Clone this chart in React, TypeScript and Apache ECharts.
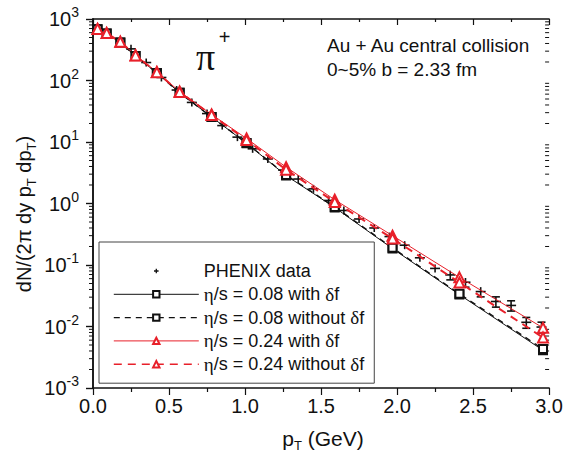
import React, { useEffect, useRef } from "react";
import * as echarts from "echarts";

// ---- data ----
const modelPt = [0.03, 0.09, 0.18, 0.28, 0.42, 0.57, 0.78, 1.01, 1.27, 1.59, 1.97, 2.41, 2.96];
const eta008WithDf = [680, 580, 415, 250, 133, 63, 25.5, 9.5, 2.85, 0.86, 0.185, 0.033, 0.0041];
const eta008WithoutDf = [680, 580, 415, 250, 133, 63, 25.5, 9.6, 2.9, 0.88, 0.19, 0.034, 0.0043];
const eta024WithDf = [690, 590, 425, 258, 138, 66, 28, 11.4, 3.9, 1.15, 0.3, 0.063, 0.0095];
const eta024WithoutDf = [690, 590, 425, 256, 136, 65, 27.5, 10.8, 3.55, 1.06, 0.27, 0.052, 0.0066];

const phenixPt = [0.25, 0.35, 0.45, 0.55, 0.65, 0.75, 0.85, 0.95, 1.05, 1.15, 1.25, 1.35, 1.45, 1.55, 1.65, 1.75, 1.85, 1.95, 2.05, 2.15, 2.25, 2.35, 2.45, 2.55, 2.65, 2.75, 2.85, 2.95];
const phenixVal = [327, 196, 112, 70, 44, 29, 18.5, 12.0, 7.75, 5.3, 3.5, 2.5, 1.73, 1.12, 0.77, 0.56, 0.4, 0.29, 0.21, 0.131, 0.088, 0.069, 0.0525, 0.037, 0.0255, 0.022, 0.0117, 0.0098];
const phenixErr = [0.08, 0.08, 0.08, 0.08, 0.08, 0.08, 0.08, 0.08, 0.08, 0.08, 0.08, 0.08, 0.08, 0.08, 0.08, 0.08, 0.08, 0.08, 0.12, 0.13, 0.14, 0.17, 0.17, 0.18, 0.19, 0.19, 0.2, 0.2];

const seriesNames = [
  "PHENIX data",
  "η/s = 0.08 with δf",
  "η/s = 0.08 without δf",
  "η/s = 0.24 with δf",
  "η/s = 0.24 without δf",
];

const xMin = 0;
const xMax = 3;
const xInterval = 0.5;
const yMin = 0.001;
const yMax = 1000;

const FONT = "'Liberation Sans', Arial, sans-serif";
const SERIF = "'Liberation Serif', 'Times New Roman', serif";
const RED = "#e8202a";
const BLACK = "#111";

function minorLogTicks(): number[] {
  const out: number[] = [];
  for (let e = -3; e < 3; e++) {
    for (let m = 2; m <= 9; m++) out.push(m * Math.pow(10, e));
  }
  return out;
}

export default function App() {
  const ref = useRef<HTMLDivElement>(null);
  useEffect(() => {
    if (!ref.current) return;
    const chart = echarts.init(ref.current, null, { renderer: "svg" });
    const pair = (ys: number[]) => modelPt.map((p, i) => [p, ys[i]]);
    const tickLabelRich = {
      b: { fontSize: 20, fontFamily: FONT, color: BLACK, lineHeight: 28 },
      s: { fontSize: 14, fontFamily: FONT, color: BLACK, lineHeight: 14, verticalAlign: "top" },
    };
    const option: any = {
      animation: false,
      backgroundColor: "#fff",
      grid: { left: 93, right: 13, top: 19, bottom: 72 },
      xAxis: [
        {
          type: "value",
          min: xMin,
          max: xMax,
          interval: xInterval,
          position: "bottom",
          axisLine: { show: true, lineStyle: { color: BLACK, width: 1.5 } },
          axisTick: { show: true, length: 7, lineStyle: { color: BLACK, width: 1.2 } },
          minorTick: { show: true, splitNumber: 2, length: 4, lineStyle: { color: BLACK, width: 1.2 } },
          splitLine: { show: false },
          axisLabel: {
            fontSize: 20,
            fontFamily: FONT,
            color: BLACK,
            margin: 8,
            formatter: (v: number) => v.toFixed(1),
          },
        },
        {
          type: "value",
          min: xMin,
          max: xMax,
          interval: xInterval,
          position: "top",
          axisLine: { show: true, lineStyle: { color: BLACK, width: 1.5 } },
          axisTick: { show: true, inside: true, length: 6, lineStyle: { color: BLACK, width: 1.2 } },
          minorTick: { show: true, splitNumber: 2, length: 3, lineStyle: { color: BLACK, width: 1.2 } },
          splitLine: { show: false },
          axisLabel: { show: false },
        },
      ],
      yAxis: [
        {
          type: "log",
          logBase: 10,
          min: yMin,
          max: yMax,
          splitNumber: 6,
          position: "left",
          axisLine: { show: true, lineStyle: { color: BLACK, width: 1.5 } },
          axisTick: { show: true, length: 7, lineStyle: { color: BLACK, width: 1.2 } },
          splitLine: { show: false },
          axisLabel: {
            margin: 14,
            rich: tickLabelRich,
            formatter: (v: number) => {
              const e = Math.round(Math.log10(v));
              return `{b|10}{s|${e}}`;
            },
          },
        },
        {
          type: "log",
          logBase: 10,
          min: yMin,
          max: yMax,
          splitNumber: 6,
          position: "right",
          axisLine: { show: true, lineStyle: { color: BLACK, width: 1.5 } },
          axisTick: { show: true, inside: true, length: 7, lineStyle: { color: BLACK, width: 1.2 } },
          splitLine: { show: false },
          axisLabel: { show: false },
        },
      ],
      legend: {
        orient: "vertical",
        left: 99,
        top: 242,
        padding: [19, 10, 9, 14],
        itemWidth: 85,
        itemHeight: 8,
        itemGap: 3.3,
        borderColor: "#444",
        borderWidth: 1,
        selectedMode: false,
        textStyle: {
          fontSize: 18,
          fontFamily: FONT,
          color: BLACK,
          lineHeight: 20,
          rich: { g: { fontSize: 19, fontFamily: SERIF, color: BLACK, lineHeight: 20 } },
        },
        formatter: (name: string) => name.replace("η", "{g|η}").replace("δ", "{g|δ}"),
        data: [
          {
            name: seriesNames[0],
            icon: "path://M0,0M14,14M7,3L7,11M3,7L11,7",
            itemStyle: { color: "none", borderColor: BLACK, borderWidth: 1.3 },
          },
          { name: seriesNames[1], lineStyle: { width: 1 }, itemStyle: { borderWidth: 1 } },
          { name: seriesNames[2], lineStyle: { width: 1.4 }, itemStyle: { borderWidth: 1 } },
          { name: seriesNames[3], lineStyle: { width: 1 }, itemStyle: { borderWidth: 1 } },
          { name: seriesNames[4], lineStyle: { width: 1.6 }, itemStyle: { borderWidth: 1 } },
        ],
      },
      graphic: [
        {
          type: "text",
          x: 24,
          y: 214,
          rotation: Math.PI / 2,
          style: {
            text: "{a|dN/(2π dy p}{t|T}{a| dp}{t|T}{a|)}",
            align: "center",
            verticalAlign: "middle",
            rich: {
              a: { fontSize: 20, fontFamily: FONT, fill: BLACK, lineHeight: 28 },
              t: { fontSize: 13, fontFamily: FONT, fill: BLACK, lineHeight: 13, verticalAlign: "bottom" },
            },
          },
        },
        {
          type: "text",
          x: 323,
          y: 438,
          style: {
            text: "{a|p}{t|T}{a| (GeV)}",
            align: "center",
            verticalAlign: "middle",
            rich: {
              a: { fontSize: 21, fontFamily: FONT, fill: BLACK, lineHeight: 28 },
              t: { fontSize: 13, fontFamily: FONT, fill: BLACK, lineHeight: 13, verticalAlign: "bottom" },
            },
          },
        },
        {
          type: "text",
          x: 196,
          y: 57,
          style: { text: "π", fontSize: 38, fontFamily: SERIF, fill: BLACK, align: "left", verticalAlign: "middle" },
        },
        {
          type: "text",
          x: 224.5,
          y: 37,
          style: { text: "+", fontSize: 20, fontFamily: FONT, fill: BLACK, align: "center", verticalAlign: "middle" },
        },
        {
          type: "text",
          x: 327,
          y: 45,
          style: { text: "Au + Au central collision", fontSize: 19, fontFamily: FONT, fill: BLACK, align: "left", verticalAlign: "middle" },
        },
        {
          type: "text",
          x: 327,
          y: 69,
          style: { text: "0~5% b = 2.33 fm", fontSize: 19, fontFamily: FONT, fill: BLACK, align: "left", verticalAlign: "middle" },
        },
      ],
      series: [
        {
          name: "minorTicks",
          type: "custom",
          xAxisIndex: 0,
          yAxisIndex: 0,
          silent: true,
          clip: false,
          data: minorLogTicks().map((v) => [xMin, v]),
          encode: { x: 0, y: 1 },
          renderItem: (params: any, api: any) => {
            const v = api.value(1);
            const l = api.coord([xMin, v]);
            const r = api.coord([xMax, v]);
            const st = { stroke: BLACK, lineWidth: 1 };
            return {
              type: "group",
              children: [
                { type: "line", shape: { x1: l[0] - 4, y1: l[1], x2: l[0], y2: l[1] }, style: st },
                { type: "line", shape: { x1: r[0] - 4, y1: r[1], x2: r[0], y2: r[1] }, style: st },
              ],
            };
          },
        },
        {
          name: seriesNames[0],
          type: "custom",
          xAxisIndex: 0,
          yAxisIndex: 0,
          silent: true,
          clip: false,
          itemStyle: { color: BLACK },
          data: phenixPt.map((p, i) => [p, phenixVal[i], phenixErr[i]]),
          encode: { x: 0, y: 1 },
          renderItem: (params: any, api: any) => {
            const x = api.value(0);
            const y = api.value(1);
            const e = api.value(2);
            const c = api.coord([x, y]);
            const hi = api.coord([x, y * (1 + e)]);
            const lo = api.coord([x, y * (1 - e)]);
            const top = Math.min(hi[1], c[1] - 4);
            const bot = Math.max(lo[1], c[1] + 4);
            const st = { stroke: BLACK, lineWidth: 1.6 };
            const children: any[] = [
              { type: "line", shape: { x1: c[0] - 5, y1: c[1], x2: c[0] + 5, y2: c[1] }, style: st },
              { type: "line", shape: { x1: c[0], y1: top, x2: c[0], y2: bot }, style: st },
            ];
            if (c[1] - hi[1] > 4.5)
              children.push({ type: "line", shape: { x1: c[0] - 4, y1: hi[1], x2: c[0] + 4, y2: hi[1] }, style: st });
            if (lo[1] - c[1] > 4.5)
              children.push({ type: "line", shape: { x1: c[0] - 4, y1: lo[1], x2: c[0] + 4, y2: lo[1] }, style: st });
            return { type: "group", children };
          },
        },
        {
          name: seriesNames[1],
          type: "line",
          data: pair(eta008WithDf),
          symbol: "emptyRect",
          symbolSize: 8,
          color: BLACK,
          lineStyle: { color: BLACK, width: 1, type: "solid" },
          itemStyle: { color: BLACK, borderColor: BLACK, borderWidth: 1.2 },
        },
        {
          name: seriesNames[2],
          type: "line",
          data: pair(eta008WithoutDf),
          symbol: "emptyRect",
          symbolSize: 8,
          color: BLACK,
          lineStyle: { color: BLACK, width: 1.4, type: [6, 5] },
          itemStyle: { color: BLACK, borderColor: BLACK, borderWidth: 1.2 },
        },
        {
          name: seriesNames[3],
          type: "line",
          data: pair(eta024WithDf),
          symbol: "emptyTriangle",
          symbolSize: 10,
          color: RED,
          lineStyle: { color: RED, width: 1, type: "solid" },
          itemStyle: { color: RED, borderColor: RED, borderWidth: 1 },
        },
        {
          name: seriesNames[4],
          type: "line",
          data: pair(eta024WithoutDf),
          symbol: "emptyTriangle",
          symbolSize: 10,
          color: RED,
          lineStyle: { color: RED, width: 2, type: [8, 6] },
          itemStyle: { color: RED, borderColor: RED, borderWidth: 1 },
        },
      ],
    };
    chart.setOption(option);
    return () => chart.dispose();
  }, []);
  return <div ref={ref} style={{ width: 566, height: 460, position: "absolute", left: 0, top: 0 }} />;
}
